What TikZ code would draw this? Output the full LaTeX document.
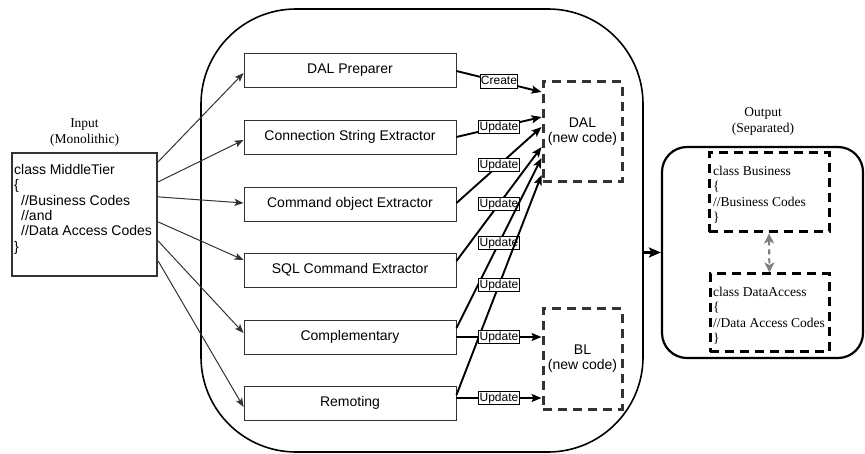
\documentclass[tikz,border=0pt]{standalone}
\usepackage{fontspec}
\setmainfont{Liberation Serif}
\newfontfamily\arial{Liberation Sans}
\usetikzlibrary{arrows.meta,calc}
\definecolor{dk}{HTML}{333333}
\definecolor{gr}{HTML}{808080}
\begin{document}
\begin{tikzpicture}[x=1pt,y=-1pt,
 proc/.style={draw=dk,line width=0.9pt,minimum width=212pt,minimum height=34pt,inner sep=0pt,font=\arial\fontsize{14}{16}\selectfont},
 lbl/.style={draw=black,fill=white,line width=0.9pt,inner sep=0.8pt,font=\arial\fontsize{12}{12}\selectfont,text height=9pt,text depth=2.6pt},
 dbox/.style={draw=dk,line width=3pt,dash pattern=on 9pt off 6pt,minimum width=79pt,minimum height=100pt,align=center,inner sep=0pt,font=\arial\fontsize{14}{15}\selectfont},
 obox/.style={draw=black,line width=3pt,dash pattern=on 9pt off 6pt,inner sep=0pt},
 thinarr/.style={draw=dk,line width=1pt,-{Stealth[length=9pt,width=7pt,inset=2pt]}},
 thickarr/.style={draw=black,line width=1.9pt,-{Stealth[length=10pt,width=8pt,inset=2pt]}},
 ttl/.style={align=center,font=\fontsize{13.5}{16}\selectfont,inner sep=0pt},
 ser/.style={align=left,anchor=north west,inner sep=0pt,font=\fontsize{13.5}{15.3}\selectfont}
]
\useasboundingbox (0,0) rectangle (865,454);

% container
\node[draw=black,line width=1.6pt,rounded corners=95pt,minimum width=442pt,minimum height=443pt,inner sep=0pt] (cont) at (422,230.5) {};

% process boxes
\node[proc] (p1) at (350,70) {DAL Preparer};
\node[proc] (p2) at (350,137) {Connection String Extractor};
\node[proc] (p3) at (350,204) {Command object Extractor};
\node[proc] (p4) at (350,270) {SQL Command Extractor};
\node[proc] (p5) at (350,337) {Complementary};
\node[proc] (p6) at (350,403) {Remoting};

% new code boxes
\node[dbox] (dal) at (582.5,132) {DAL\\(new code)};
\node[dbox] (bl) at (582.5,359) {BL\\(new code)};

% input
\node[ttl] (intitle) at (84.5,132.5) {Input\\(Monolithic)};
\node[draw=dk,line width=2.2pt,minimum width=145pt,minimum height=123pt,inner sep=0pt] (in) at (84.5,214.5) {};
\node[anchor=north west,inner sep=0pt,align=left,font=\arial\fontsize{14}{15.4}\selectfont] (intxt) at (14,164) {class MiddleTier\\\{\\\hspace*{7pt}//Business Codes\\\hspace*{7pt}//and\\\hspace*{7pt}//Data Access Codes\\\}};

% input arrows
\draw[thinarr] ($(in.north east)+(0,10)$) -- ($(p1.west)+(0,3)$);
\draw[thinarr] ($(in.north east)+(0,30)$) -- ($(p2.west)+(0,3)$);
\draw[thinarr] ($(in.north east)+(0,45)$) -- ($(p3.west)+(0,-1)$);
\draw[thinarr] ($(in.north east)+(0,70)$) -- ($(p4.west)+(0,-10)$);
\draw[thinarr] ($(in.north east)+(0,89)$) -- ($(p5.west)+(0,-4)$);
\draw[thinarr] ($(in.north east)+(0,109)$) -- ($(p6.west)+(0,4)$);

% middle connectors
\draw[thickarr] ($(p1.east)+(0,1)$) -- node[lbl]{Create} ($(dal.west)+(0,-40)$);
\draw[thickarr] ($(p2.east)+(0,0)$) -- node[lbl]{Update} ($(dal.west)+(0,-15)$);
\draw[thickarr] ($(p3.east)+(0,-1)$) -- node[lbl]{Update} ($(dal.west)+(0,-5)$);
\draw[thickarr] ($(p4.east)+(0,-9)$) -- node[lbl]{Update} ($(dal.west)+(0,15)$);
\draw[thickarr] ($(p5.east)+(0,-9)$) -- node[lbl]{Update} ($(dal.west)+(0,26)$);
\draw[thickarr] ($(p6.east)+(0,-8)$) -- node[lbl]{Update} ($(dal.west)+(0,43)$);
\draw[thickarr] (p5.east) -- node[lbl]{Update} (bl.west |- p5.east);
\draw[thickarr] ($(p6.east)+(0,-5)$) -- node[lbl]{Update} ($(bl.west)+(0,39)$);

% output
\node[ttl] (outtitle) at (763,121.5) {Output\\(Separated)};
\node[draw=black,line width=2.2pt,rounded corners=25pt,minimum width=201pt,minimum height=211pt,inner sep=0pt] (out) at (762.5,252.5) {};
\node[obox,minimum width=120pt,minimum height=79pt] (biz) at (769,192.5) {};
\node[ser] (biztxt) at (713,166) {class Business\\\{\\//Business Codes\\\}};
\node[obox,minimum width=119pt,minimum height=78pt] (da) at (769.5,313) {};
\node[ser] (datxt) at (713,287) {class DataAccess\\\{\\//Data Access Codes\\\}};
\draw[gr,line width=2.2pt,dash pattern=on 5pt off 4pt,{Stealth[length=10pt,width=10pt,inset=2.5pt]}-{Stealth[length=10pt,width=10pt,inset=2.5pt]}] (biz.south) -- (da.north);

% container to output
\draw[draw=black,line width=2.5pt,-{Stealth[length=12pt,width=10pt,inset=2.5pt]}] (cont.east |- out.west) -- (out.west);
\end{tikzpicture}
\end{document}
